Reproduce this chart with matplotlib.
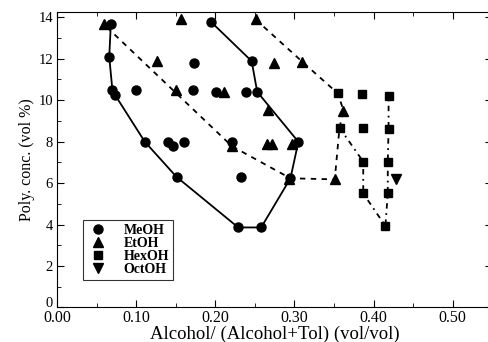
import numpy as np
import matplotlib
matplotlib.use("Agg")
import matplotlib.pyplot as plt
import matplotlib.transforms as mtransforms
from matplotlib.ticker import MultipleLocator, FormatStrFormatter

plt.rcParams.update({"font.family": ["Liberation Serif", "DejaVu Serif"]})

# MeOH points
meoh_x = [0.068, 0.195, 0.066, 0.173, 0.246, 0.070, 0.073, 0.100, 0.172, 0.201, 0.239, 0.253,
          0.111, 0.140, 0.146, 0.161, 0.221, 0.305, 0.151, 0.232, 0.295, 0.229, 0.258]
meoh_y = [13.66, 13.76, 12.09, 11.77, 11.88, 10.48, 10.27, 10.48, 10.48, 10.40, 10.40, 10.40,
          7.99, 7.99, 7.78, 7.99, 7.99, 7.99, 6.30, 6.27, 6.23, 3.86, 3.86]
# MeOH boundary (solid)
meoh_lx = [0.068, 0.066, 0.070, 0.073, 0.111, 0.151, 0.229, 0.258, 0.295, 0.305, 0.253, 0.246, 0.195]
meoh_ly = [13.66, 12.09, 10.48, 10.27, 7.99, 6.30, 3.86, 3.86, 6.23, 7.99, 10.40, 11.88, 13.76]

# EtOH points
etoh_x = [0.059, 0.157, 0.251, 0.126, 0.274, 0.310, 0.150, 0.211, 0.266, 0.362,
          0.221, 0.265, 0.272, 0.297, 0.293, 0.351]
etoh_y = [13.66, 13.89, 13.89, 11.88, 11.77, 11.85, 10.48, 10.40, 9.52, 9.50,
          7.78, 7.88, 7.88, 7.88, 6.20, 6.18]
# EtOH boundary (dashed)
etoh_lx = [0.251, 0.310, 0.355, 0.362, 0.357, 0.351, 0.295, 0.221, 0.059]
etoh_ly = [13.89, 11.85, 10.32, 9.50, 8.67, 6.18, 6.23, 7.78, 13.66]

# HexOH points
hex_x = [0.355, 0.385, 0.419, 0.357, 0.387, 0.419, 0.387, 0.418, 0.387, 0.418, 0.415]
hex_y = [10.32, 10.29, 10.21, 8.67, 8.67, 8.63, 7.03, 7.03, 5.50, 5.50, 3.93]
# HexOH boundary (dash-dot)
hex_lx = [0.357, 0.387, 0.387, 0.415, 0.418, 0.418, 0.419, 0.419]
hex_ly = [8.67, 7.03, 5.50, 3.93, 5.50, 7.03, 8.63, 10.21]

# OctOH point
oct_x = [0.429]
oct_y = [6.18]

fig = plt.figure(figsize=(4.89, 3.42), dpi=100)
ax = fig.add_axes([0.1166, 0.1009, 0.89, 0.864])

ax.plot(meoh_lx, meoh_ly, "-", color="black", lw=1.3)
ax.plot(etoh_lx, etoh_ly, color="black", lw=1.3, dashes=(3, 3))
ax.plot(hex_lx, hex_ly, color="black", lw=1.3, dashes=(3, 2.5, 1, 2.5))

ax.plot(meoh_x, meoh_y, "o", color="black", ms=6.5, label="MeOH")
ax.plot(etoh_x, etoh_y, "^", color="black", ms=6.5, label="EtOH")
ax.plot(hex_x, hex_y, "s", color="black", ms=6, label="HexOH")
ax.plot(oct_x, oct_y, "v", color="black", ms=6.5, label="OctOH")

ax.set_xlim(0, 0.55)
ax.set_ylim(0, 14.25)
ax.xaxis.set_major_locator(MultipleLocator(0.1))
ax.xaxis.set_minor_locator(MultipleLocator(0.05))
ax.yaxis.set_major_locator(MultipleLocator(2))
ax.yaxis.set_minor_locator(MultipleLocator(1))
ax.xaxis.set_major_formatter(FormatStrFormatter("%.2f"))
ax.tick_params(which="both", direction="in", top=True, right=True)
ax.tick_params(which="major", length=5)
ax.tick_params(which="minor", length=3)
ax.tick_params(axis="x", pad=1.5, labelsize=11.5)
ax.tick_params(axis="y", pad=3, labelsize=10.5)

fig.canvas.draw()
# the "0" on the y axis sits a little above the x tick labels
lift = mtransforms.ScaledTranslation(0, 4 / 72, fig.dpi_scale_trans)
for lab in ax.get_yticklabels():
    if lab.get_text() == "0":
        lab.set_transform(lab.get_transform() + lift)

ax.set_xlabel("Alcohol/ (Alcohol+Tol) (vol/vol)", fontsize=13.5, labelpad=0)
ax.set_ylabel("Poly. conc. (vol %)", fontsize=11.5, labelpad=2)

leg = ax.legend(loc="lower left", bbox_to_anchor=(0.06, 0.093), borderaxespad=0,
                frameon=True, fancybox=False, edgecolor="black", handlelength=1.5,
                handletextpad=1.1, labelspacing=0.0, borderpad=0.3,
                prop={"weight": "bold", "size": 10})
leg.get_frame().set_linewidth(0.8)

fig.savefig("out.png", dpi=100)
